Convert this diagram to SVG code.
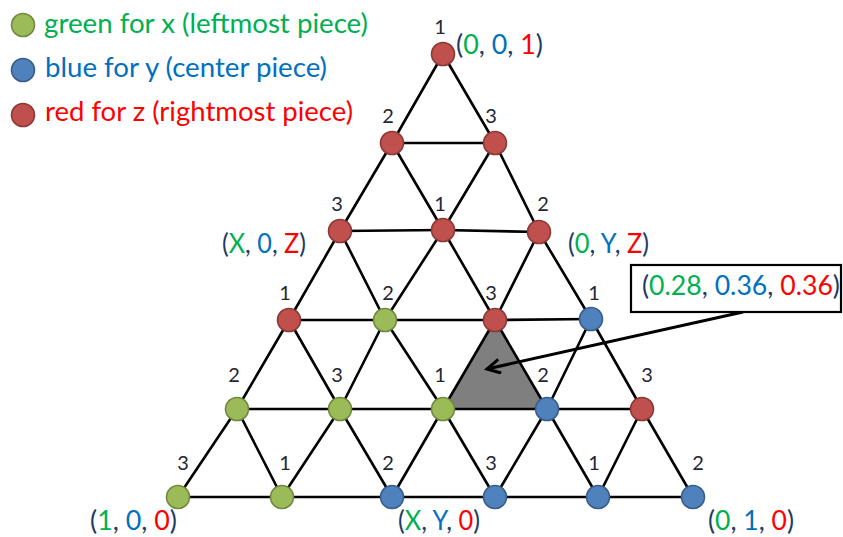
<svg xmlns="http://www.w3.org/2000/svg" width="843" height="537" viewBox="0 0 843 537">
<style>
.edge{stroke:#000;stroke-width:2.6;stroke-linecap:round}
.g{fill:#9BBB59;stroke:#71893F;stroke-width:1.6}
.b{fill:#4F81BD;stroke:#385D8A;stroke-width:1.6}
.r{fill:#C0504D;stroke:#8C3836;stroke-width:1.6}
.num{font-family:Lato,"Liberation Sans",sans-serif;font-size:20px;fill:#1f2633;text-anchor:middle}
.lab{font-family:Lato,"Liberation Sans",sans-serif;font-size:26px;fill:#1F3B63}
.leg{font-family:Lato,"Liberation Sans",sans-serif;font-size:27px}
.cg{fill:#00B050}.cb{fill:#0070C0}.cr{fill:#FF0000}
</style>
<defs>
<marker id="open" markerUnits="userSpaceOnUse" markerWidth="20" markerHeight="20" refX="14" refY="8" orient="auto">
<path d="M1,1 L14,8 L1,15" fill="none" stroke="#000" stroke-width="3" stroke-linejoin="miter"/>
</marker>
</defs>
<rect width="843" height="537" fill="#fff"/>

<g id="legend">
<circle class="g" cx="23" cy="25" r="11.5"/>
<text class="leg cg" x="44" y="33" textLength="324" lengthAdjust="spacingAndGlyphs">green for x (leftmost piece)</text>
<circle class="b" cx="23" cy="70" r="11.5"/>
<text class="leg cb" x="45" y="77" textLength="282" lengthAdjust="spacingAndGlyphs">blue for y (center piece)</text>
<circle class="r" cx="23" cy="115" r="11.5"/>
<text class="leg cr" x="45" y="121" textLength="308" lengthAdjust="spacingAndGlyphs">red for z (rightmost piece)</text>
</g>

<polygon id="shaded" points="495,320 443,409 547,409" fill="#7F7F7F"/>

<g id="connectors">
<line class="edge" x1="392" y1="143" x2="495" y2="143"/>
<line class="edge" x1="340" y1="231" x2="443" y2="230"/>
<line class="edge" x1="443" y1="230" x2="539" y2="232"/>
<line class="edge" x1="289" y1="320" x2="385" y2="320"/>
<line class="edge" x1="385" y1="320" x2="495" y2="320"/>
<line class="edge" x1="495" y1="320" x2="591" y2="319"/>
<line class="edge" x1="237" y1="409" x2="340" y2="409"/>
<line class="edge" x1="340" y1="409" x2="443" y2="409"/>
<line class="edge" x1="443" y1="409" x2="547" y2="409"/>
<line class="edge" x1="547" y1="409" x2="642" y2="409"/>
<line class="edge" x1="178" y1="497" x2="282" y2="497"/>
<line class="edge" x1="282" y1="497" x2="392" y2="497"/>
<line class="edge" x1="392" y1="497" x2="495" y2="497"/>
<line class="edge" x1="495" y1="497" x2="598" y2="497"/>
<line class="edge" x1="598" y1="497" x2="693" y2="497"/>
<line class="edge" x1="443" y1="54" x2="392" y2="143"/>
<line class="edge" x1="443" y1="54" x2="495" y2="143"/>
<line class="edge" x1="392" y1="143" x2="340" y2="231"/>
<line class="edge" x1="392" y1="143" x2="443" y2="230"/>
<line class="edge" x1="495" y1="143" x2="443" y2="230"/>
<line class="edge" x1="495" y1="143" x2="539" y2="232"/>
<line class="edge" x1="340" y1="231" x2="289" y2="320"/>
<line class="edge" x1="340" y1="231" x2="385" y2="320"/>
<line class="edge" x1="443" y1="230" x2="385" y2="320"/>
<line class="edge" x1="443" y1="230" x2="495" y2="320"/>
<line class="edge" x1="539" y1="232" x2="495" y2="320"/>
<line class="edge" x1="539" y1="232" x2="591" y2="319"/>
<line class="edge" x1="289" y1="320" x2="237" y2="409"/>
<line class="edge" x1="289" y1="320" x2="340" y2="409"/>
<line class="edge" x1="385" y1="320" x2="340" y2="409"/>
<line class="edge" x1="385" y1="320" x2="443" y2="409"/>
<line class="edge" x1="495" y1="320" x2="443" y2="409"/>
<line class="edge" x1="495" y1="320" x2="547" y2="409"/>
<line class="edge" x1="591" y1="319" x2="547" y2="409"/>
<line class="edge" x1="591" y1="319" x2="642" y2="409"/>
<line class="edge" x1="237" y1="409" x2="178" y2="497"/>
<line class="edge" x1="237" y1="409" x2="282" y2="497"/>
<line class="edge" x1="340" y1="409" x2="282" y2="497"/>
<line class="edge" x1="340" y1="409" x2="392" y2="497"/>
<line class="edge" x1="443" y1="409" x2="392" y2="497"/>
<line class="edge" x1="443" y1="409" x2="495" y2="497"/>
<line class="edge" x1="547" y1="409" x2="495" y2="497"/>
<line class="edge" x1="547" y1="409" x2="598" y2="497"/>
<line class="edge" x1="642" y1="409" x2="598" y2="497"/>
<line class="edge" x1="642" y1="409" x2="693" y2="497"/>
<line x1="743" y1="312" x2="487" y2="369" stroke="#000" stroke-width="3" marker-end="url(#open)"/>
</g>

<g id="nodes">
<g id="n00"><circle class="r" cx="443" cy="54" r="11.5"/><text class="num" x="440" y="34">1</text></g>
<g id="n10"><circle class="r" cx="392" cy="143" r="11.5"/><text class="num" x="388" y="123">2</text></g>
<g id="n11"><circle class="r" cx="495" cy="143" r="11.5"/><text class="num" x="491" y="123">3</text></g>
<g id="n20"><circle class="r" cx="340" cy="231" r="11.5"/><text class="num" x="337" y="211">3</text></g>
<g id="n21"><circle class="r" cx="443" cy="230" r="11.5"/><text class="num" x="440" y="211">1</text></g>
<g id="n22"><circle class="r" cx="539" cy="232" r="11.5"/><text class="num" x="543" y="211">2</text></g>
<g id="n30"><circle class="r" cx="289" cy="320" r="11.5"/><text class="num" x="285" y="300">1</text></g>
<g id="n31"><circle class="g" cx="385" cy="320" r="11.5"/><text class="num" x="388" y="300">2</text></g>
<g id="n32"><circle class="r" cx="495" cy="320" r="11.5"/><text class="num" x="491" y="300">3</text></g>
<g id="n33"><circle class="b" cx="591" cy="319" r="11.5"/><text class="num" x="594" y="300">1</text></g>
<g id="n40"><circle class="g" cx="237" cy="409" r="11.5"/><text class="num" x="234" y="382">2</text></g>
<g id="n41"><circle class="g" cx="340" cy="409" r="11.5"/><text class="num" x="337" y="382">3</text></g>
<g id="n42"><circle class="g" cx="443" cy="409" r="11.5"/><text class="num" x="440" y="382">1</text></g>
<g id="n43"><circle class="b" cx="547" cy="409" r="11.5"/><text class="num" x="543" y="382">2</text></g>
<g id="n44"><circle class="r" cx="642" cy="409" r="11.5"/><text class="num" x="647" y="382">3</text></g>
<g id="n50"><circle class="g" cx="178" cy="497" r="11.5"/><text class="num" x="183" y="470">3</text></g>
<g id="n51"><circle class="g" cx="282" cy="497" r="11.5"/><text class="num" x="285" y="470">1</text></g>
<g id="n52"><circle class="b" cx="392" cy="497" r="11.5"/><text class="num" x="388" y="470">2</text></g>
<g id="n53"><circle class="b" cx="495" cy="497" r="11.5"/><text class="num" x="491" y="470">3</text></g>
<g id="n54"><circle class="b" cx="598" cy="497" r="11.5"/><text class="num" x="594" y="470">1</text></g>
<g id="n55"><circle class="b" cx="693" cy="497" r="11.5"/><text class="num" x="698" y="470">2</text></g>
</g>

<g id="labels">
<text class="lab" x="456" y="54" textLength="87" lengthAdjust="spacingAndGlyphs">(<tspan class="cg">0</tspan>, <tspan class="cb">0</tspan>, <tspan class="cr">1</tspan>)</text>
<text class="lab" x="222" y="253" textLength="84" lengthAdjust="spacingAndGlyphs">(<tspan class="cg">X</tspan>, <tspan class="cb">0</tspan>, <tspan class="cr">Z</tspan>)</text>
<text class="lab" x="568" y="253" textLength="81" lengthAdjust="spacingAndGlyphs">(<tspan class="cg">0</tspan>, <tspan class="cb">Y</tspan>, <tspan class="cr">Z</tspan>)</text>
<text class="lab" x="90" y="530" textLength="87" lengthAdjust="spacingAndGlyphs">(<tspan class="cg">1</tspan>, <tspan class="cb">0</tspan>, <tspan class="cr">0</tspan>)</text>
<text class="lab" x="398" y="530" textLength="82" lengthAdjust="spacingAndGlyphs">(<tspan class="cg">X</tspan>, <tspan class="cb">Y</tspan>, <tspan class="cr">0</tspan>)</text>
<text class="lab" x="708" y="530" textLength="86" lengthAdjust="spacingAndGlyphs">(<tspan class="cg">0</tspan>, <tspan class="cb">1</tspan>, <tspan class="cr">0</tspan>)</text>
</g>

<g id="callout">
<rect x="631" y="265" width="210" height="47" fill="#fff" stroke="#000" stroke-width="2.2"/>
<text class="lab" x="642" y="295" textLength="198" lengthAdjust="spacingAndGlyphs">(<tspan class="cg">0.28</tspan>, <tspan class="cb">0.36</tspan>, <tspan class="cr">0.36</tspan>)</text>
</g>
</svg>
